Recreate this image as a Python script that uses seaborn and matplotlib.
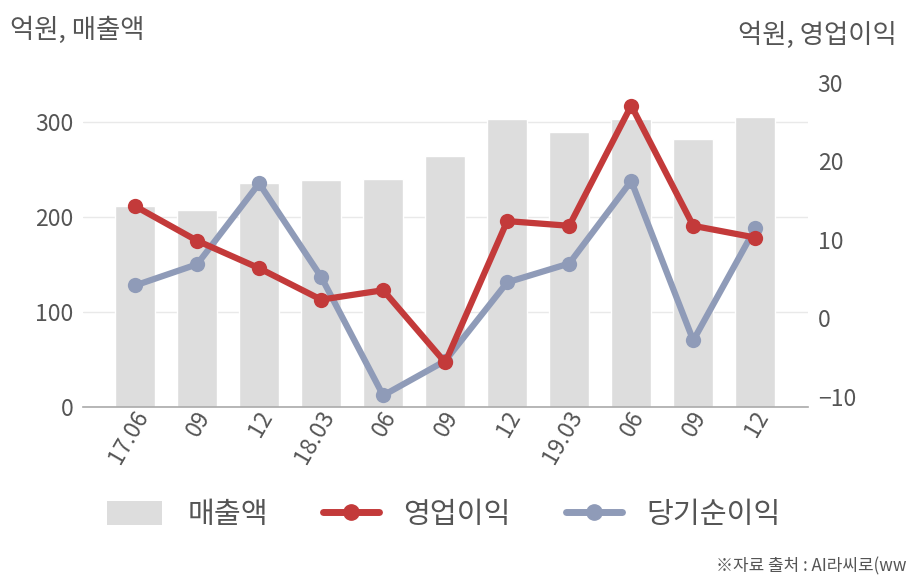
import numpy as np
import pandas as pd
import matplotlib
matplotlib.use("Agg")
import matplotlib.pyplot as plt
from matplotlib.patches import Patch
from matplotlib.lines import Line2D
from matplotlib.transforms import ScaledTranslation
import seaborn as sns

categories = ["17.06", "09", "12", "18.03", "06", "09", "12", "19.03", "06", "09", "12"]
sales = [212, 207, 236, 239, 240, 264, 303, 289, 303, 282, 305]
op_income = [14.3, 9.9, 6.4, 2.4, 3.6, -5.6, 12.4, 11.8, 27.1, 11.8, 10.3]
net_income = [4.2, 6.9, 17.2, 5.3, -9.8, -5.4, 4.6, 7.0, 17.5, -2.8, 11.5]

BAR_C = "#dddddd"
RED = "#c33a3a"
BLUE = "#8f9bb8"
TXT = "#555555"

sns.set_theme(style="white")
plt.rcParams["font.family"] = ["Noto Sans CJK KR", "DejaVu Sans"]

W, H = 908, 580
fig = plt.figure(figsize=(W / 100, H / 100), dpi=100)
ax_l, ax_r, ax_t, ax_b = 83, 808, 75, 407
ax = fig.add_axes([ax_l / W, 1 - ax_b / H, (ax_r - ax_l) / W, (ax_b - ax_t) / H])

idx = np.arange(len(categories))
df = pd.DataFrame({"idx": idx, "sales": sales, "op": op_income, "net": net_income})

sns.barplot(data=df, x="idx", y="sales", color=BAR_C, width=0.645, ax=ax,
            saturation=1, zorder=2)
ax.set_xlim(-0.84, 10.85)
ax.set_ylim(0, 349.5)
ax.set_yticks([0, 100, 200, 300])
ax.yaxis.grid(True, color="#e9e9e9", linewidth=1, zorder=0)
ax.set_axisbelow(True)
ax.set_xlabel("")
ax.set_ylabel("")
ax.set_xticks(idx)
ax.set_xticklabels(categories, rotation=60, ha="right", va="center",
                   rotation_mode="anchor", fontsize=16.5, color=TXT)
ax.tick_params(axis="x", length=0, pad=4)
offset = ScaledTranslation(8 / 100, 0, fig.dpi_scale_trans)
for lab in ax.get_xticklabels():
    lab.set_transform(lab.get_transform() + offset)
ax.tick_params(axis="y", length=0, pad=7, labelsize=16.5, labelcolor=TXT)
for s in ["top", "right", "left"]:
    ax.spines[s].set_visible(False)
ax.spines["bottom"].set_color("#aaaaaa")
ax.spines["bottom"].set_linewidth(1.2)

ax2 = ax.twinx()
sns.lineplot(data=df, x="idx", y="net", color=BLUE, linewidth=4.5, marker="o",
             markersize=11, markeredgewidth=0, ax=ax2, zorder=3)
sns.lineplot(data=df, x="idx", y="op", color=RED, linewidth=4.5, marker="o",
             markersize=11, markeredgewidth=0, ax=ax2, zorder=4)
ax2.set_ylim(-11.27, 31.0)
ax2.set_yticks([-10, 0, 10, 20, 30])
ax2.set_ylabel("")
ax2.set_xlabel("")
ax2.tick_params(axis="y", length=0, pad=7, labelsize=16.5, labelcolor=TXT)
for s in ["top", "right", "left", "bottom"]:
    ax2.spines[s].set_visible(False)
ax2.grid(False)
ax2.set_xlim(-0.84, 10.85)

fig.text(10 / W, 1 - 30 / H, "억원, 매출액", fontsize=19, color=TXT, ha="left", va="center")
fig.text(897 / W, 1 - 35 / H, "억원, 영업이익", fontsize=19, color=TXT, ha="right", va="center")

handles = [
    Patch(facecolor=BAR_C, edgecolor="none"),
    Line2D([0], [0], color=RED, linewidth=5, marker="o", markersize=11),
    Line2D([0], [0], color=BLUE, linewidth=5, marker="o", markersize=11),
]
leg = fig.legend(handles, ["매출액", "영업이익", "당기순이익"], loc="center",
                 bbox_to_anchor=(444 / W, 1 - 515 / H), ncol=3, frameon=False,
                 fontsize=21, handlelength=1.9, handleheight=0.9,
                 columnspacing=1.9, handletextpad=0.85, labelcolor=TXT)

fig.text(906 / W, 1 - 566 / H, "※자료 출처 : AI라씨로(ww",
         fontsize=12.2, color=TXT, ha="right", va="center")

fig.savefig("out.png", dpi=100)
